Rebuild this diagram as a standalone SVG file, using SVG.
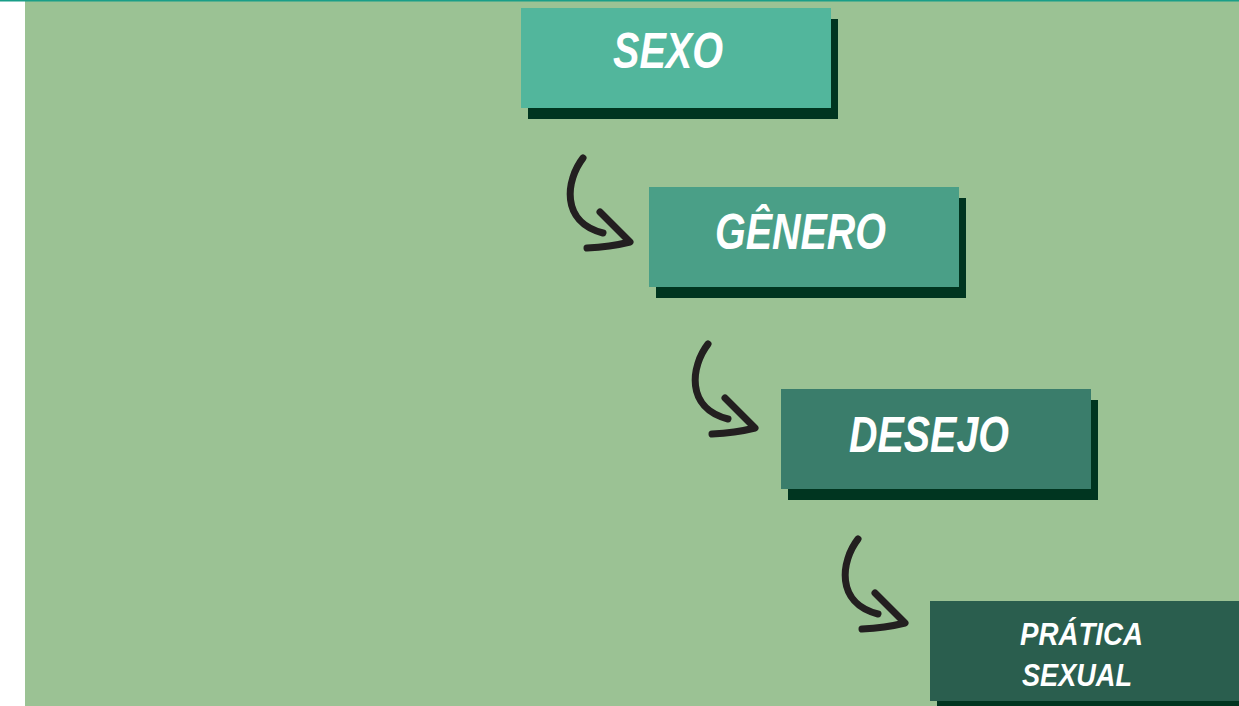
<svg xmlns="http://www.w3.org/2000/svg" xmlns:xlink="http://www.w3.org/1999/xlink" width="1239" height="706" viewBox="0 0 1239 706">
<style>
.shadow{fill:#003520}
.lbl{fill:#ffffff;font-family:"Liberation Sans",Arial,sans-serif;font-weight:bold;font-style:italic}
.arr{fill:none;stroke:#231f20;stroke-width:7;stroke-linecap:round;stroke-linejoin:round}
</style>
<defs>
<g id="arrow">
<path class="arr" d="M583,158 C566,180 560,222 603,233"/>
<path class="arr" d="M600,212 L630,242 Q610,247 587,248"/>
</g>
</defs>
<rect x="0" y="0" width="1239" height="706" fill="#ffffff"/>
<rect x="25" y="1" width="1214" height="705" fill="#9bc294"/>
<rect x="0" y="0" width="1239" height="1.5" fill="#1a9e88"/>
<g id="connectors">
<use xlink:href="#arrow"/>
<use xlink:href="#arrow" transform="translate(125,186)"/>
<use xlink:href="#arrow" transform="translate(275,381)"/>
</g>
<g id="sexo">
<rect class="shadow" x="528" y="19" width="310" height="100"/>
<rect x="521" y="8" width="310" height="100" fill="#52b69c"/>
<text class="lbl" x="613" y="68" font-size="50" textLength="110" lengthAdjust="spacingAndGlyphs">SEXO</text>
</g>
<g id="genero">
<rect class="shadow" x="656" y="198" width="310" height="100"/>
<rect x="649" y="187" width="310" height="100" fill="#4a9f87"/>
<text class="lbl" x="715" y="249" font-size="50" textLength="171" lengthAdjust="spacingAndGlyphs">GÊNERO</text>
</g>
<g id="desejo">
<rect class="shadow" x="788" y="400" width="310" height="100"/>
<rect x="781" y="389" width="310" height="100" fill="#3a7d6b"/>
<text class="lbl" x="849" y="452" font-size="50" textLength="160" lengthAdjust="spacingAndGlyphs">DESEJO</text>
</g>
<g id="pratica">
<rect class="shadow" x="937" y="612" width="310" height="100"/>
<rect x="930" y="601" width="310" height="100" fill="#2a5e4e"/>
<text class="lbl" x="1020" y="645" font-size="31" textLength="123" lengthAdjust="spacingAndGlyphs">PRÁTICA</text>
<text class="lbl" x="1022" y="686" font-size="31" textLength="110" lengthAdjust="spacingAndGlyphs">SEXUAL</text>
</g>
</svg>
